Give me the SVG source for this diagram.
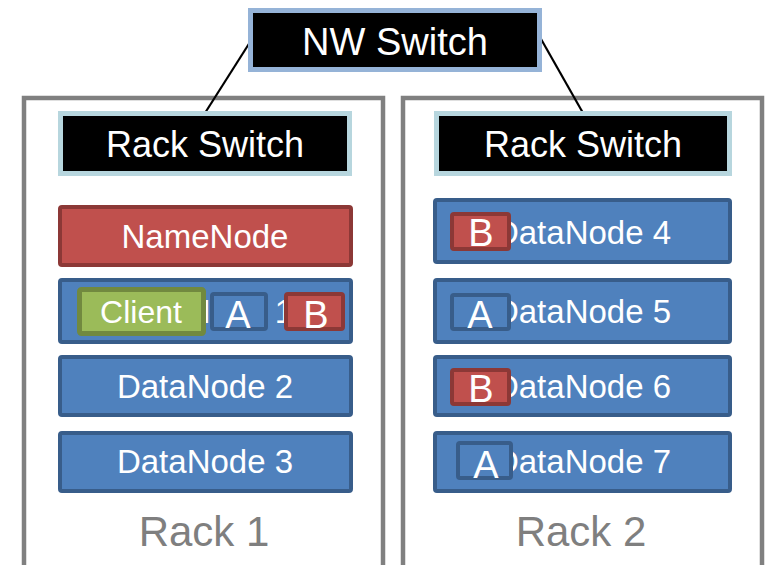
<svg xmlns="http://www.w3.org/2000/svg" width="767" height="565" viewBox="0 0 767 565">
<style>
text{font-family:"Liberation Sans",Arial,sans-serif;fill:#fff;text-anchor:middle}
.sw{fill:#000;stroke-width:5}
.rack{fill:none;stroke:#808080;stroke-width:4.5}
.dn{fill:#4F81BD;stroke:#385D8A;stroke-width:4}
.red{fill:#C0504D;stroke:#8C3836;stroke-width:4}
.grn{fill:#9BBB59;stroke:#71893F;stroke-width:5}
.t32{font-size:33px}
.blk{font-size:38px}
.lbl{font-size:42px;fill:#7F7F7F}
.ln{stroke:#000;stroke-width:2.2;fill:none}
</style>
<g id="rack1"><rect class="rack" x="24" y="98" width="359" height="500"/><text class="lbl" x="204" y="546">Rack 1</text></g>
<g id="rack2"><rect class="rack" x="403" y="98" width="359" height="500"/><text class="lbl" x="581" y="546">Rack 2</text></g>
<g id="connectors">
<line class="ln" x1="252" y1="39" x2="205" y2="113"/>
<line class="ln" x1="541" y1="39" x2="583" y2="113"/>
</g>
<g id="nwswitch"><rect class="sw" x="250.5" y="10.5" width="289" height="59" stroke="#95B3D7"/><text x="395" y="55" style="font-size:38px">NW Switch</text></g>
<g id="rackswitch1"><rect class="sw" x="60.5" y="113.5" width="289" height="60" stroke="#B7D6DE"/><text x="205" y="157" style="font-size:36px">Rack Switch</text></g>
<g id="rackswitch2"><rect class="sw" x="436.5" y="113.5" width="293" height="60" stroke="#B7D6DE"/><text x="583" y="157" style="font-size:36px">Rack Switch</text></g>
<g id="namenode"><rect class="red" x="60" y="207" width="291" height="58" rx="2"/><text class="t32" x="205" y="248">NameNode</text></g>
<g id="datanode1"><rect class="dn" x="60" y="280" width="291" height="62" rx="2"/><text class="t32" x="205" y="323">DataNode 1</text></g>
<g id="client"><rect class="grn" x="79.5" y="289.5" width="124" height="44" rx="2"/><text x="141" y="323" style="font-size:32px">Client</text></g>
<g id="blockA1"><rect class="dn" x="212" y="294" width="54" height="35" rx="2"/><text class="blk" x="238" y="328">A</text></g>
<g id="blockB1"><rect class="red" x="286" y="294" width="57" height="35" rx="2"/><text class="blk" x="316" y="328">B</text></g>
<g id="datanode2"><rect class="dn" x="60" y="357" width="291" height="58" rx="2"/><text class="t32" x="205" y="398">DataNode 2</text></g>
<g id="datanode3"><rect class="dn" x="60" y="433" width="291" height="58" rx="2"/><text class="t32" x="205" y="473">DataNode 3</text></g>
<g id="datanode4"><rect class="dn" x="435" y="200" width="295" height="62" rx="2"/><text class="t32" x="583" y="244">DataNode 4</text></g>
<g id="blockB4"><rect class="red" x="452" y="214" width="57" height="35" rx="2"/><text class="blk" x="481" y="246">B</text></g>
<g id="datanode5"><rect class="dn" x="435" y="280" width="295" height="62" rx="2"/><text class="t32" x="583" y="323">DataNode 5</text></g>
<g id="blockA5"><rect class="dn" x="452" y="295" width="57" height="34" rx="2"/><text class="blk" x="480" y="328">A</text></g>
<g id="datanode6"><rect class="dn" x="435" y="357" width="295" height="58" rx="2"/><text class="t32" x="583" y="398">DataNode 6</text></g>
<g id="blockB6"><rect class="red" x="452" y="370" width="57" height="34" rx="2"/><text class="blk" x="481" y="402">B</text></g>
<g id="datanode7"><rect class="dn" x="435" y="433" width="295" height="58" rx="2"/><text class="t32" x="583" y="473">DataNode 7</text></g>
<g id="blockA7"><rect class="dn" x="458" y="443" width="53" height="35" rx="2"/><text class="blk" x="486" y="478">A</text></g>
</svg>
